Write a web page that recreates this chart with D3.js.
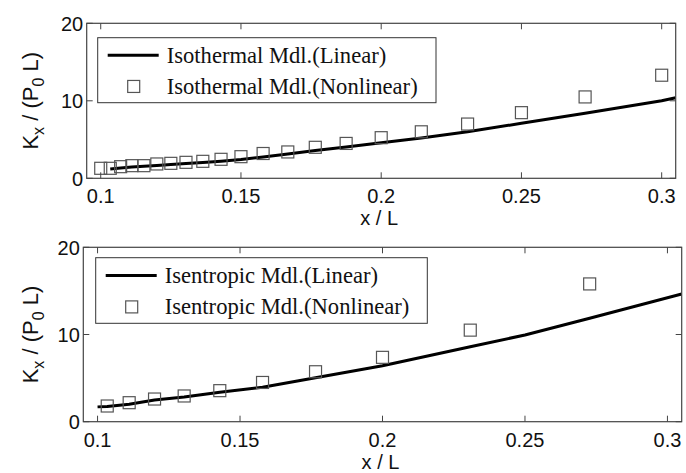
<!DOCTYPE html>
<html>
<head>
<meta charset="utf-8">
<script src="https://cdn.jsdelivr.net/npm/d3@7"></script>
<style>
  body { margin: 0; background: #fff; }
  text { font-family: Arial, "Liberation Sans", sans-serif; fill: #111; }
  .leg text { font-family: "Times New Roman", "Liberation Serif", serif; }
</style>
</head>
<body>
<script>
// chart data

var xTicks = [0.1, 0.15, 0.2, 0.25, 0.3];
var yTicks = [0, 10, 20];

// isothermal model
var isoNonX = [0.1, 0.1034, 0.1071, 0.1111, 0.1154, 0.12, 0.125, 0.1304, 0.1364, 0.1429,
               0.15, 0.1579, 0.1667, 0.1765, 0.1875, 0.2, 0.2143, 0.2308, 0.25, 0.2727, 0.3];
var isoNonY = [1.29, 1.29, 1.5, 1.63, 1.63, 1.85, 1.93, 2.06, 2.19, 2.45,
               2.79, 3.2, 3.4, 4.0, 4.5, 5.24, 6.0, 7.0, 8.47, 10.5, 13.3];
var isoLinX = [0.1034, 0.1071, 0.1111, 0.1154, 0.12, 0.125, 0.1304, 0.1364, 0.1429, 0.15,
               0.1579, 0.1667, 0.1765, 0.1875, 0.2, 0.2143, 0.2308, 0.25, 0.2727, 0.3, 0.305];
var isoLinY = [1.2, 1.33, 1.45, 1.55, 1.65, 1.78, 1.92, 2.05, 2.2, 2.42,
               2.75, 3.15, 3.6, 4.05, 4.6, 5.2, 6.0, 7.1, 8.4, 10.0, 10.4];

// isentropic model
var isenNonX = [0.1034, 0.1111, 0.12, 0.1304, 0.1429, 0.1579, 0.1765, 0.2, 0.2308, 0.2727];
var isenNonY = [1.8, 2.18, 2.6, 2.95, 3.56, 4.5, 5.73, 7.38, 10.5, 15.8];
var isenLinX = [0.1, 0.1034, 0.1111, 0.12, 0.1304, 0.1429, 0.1579, 0.1765, 0.2, 0.2308,
                0.25, 0.2727, 0.305];
var isenLinY = [1.7, 1.75, 2.0, 2.49, 2.83, 3.37, 3.94, 5.05, 6.42, 8.6,
                9.94, 11.86, 14.65];

var width = 686;
var height = 473;

var svg = d3.select("body").append("svg")
    .attr("width", width)
    .attr("height", height);

var panels = [
  {left: 86.7, right: 675.7, top: 23.3, bottom: 178.3,
   linX: isoLinX, linY: isoLinY, nonX: isoNonX, nonY: isoNonY,
   names: ["Isothermal Mdl.(Linear)", "Isothermal Mdl.(Nonlinear)"],
   leg: {x: 97.7, y: 37.7, w: 338.3, h: 65}},
  {left: 83.3, right: 681.7, top: 247.3, bottom: 421.7,
   linX: isenLinX, linY: isenLinY, nonX: isenNonX, nonY: isenNonY,
   names: ["Isentropic Mdl.(Linear)", "Isentropic Mdl.(Nonlinear)"],
   leg: {x: 95.7, y: 257.7, w: 331.6, h: 65.6}}
];

var axisColor = "#444";
var tickLen = 6;

panels.forEach(function(p, i){
  var x = d3.scaleLinear().domain([0.095, 0.305]).range([p.left, p.right]);
  var y = d3.scaleLinear().domain([0, 20]).range([p.bottom, p.top]);
  var g = svg.append("g");

  var clipId = "clip" + i;
  g.append("clipPath").attr("id", clipId)
    .append("rect")
    .attr("x", p.left).attr("y", p.top)
    .attr("width", p.right - p.left).attr("height", p.bottom - p.top);

  // line
  var lin = p.linX.map(function(v, k){ return [v, p.linY[k]]; });
  g.append("path")
    .datum(lin)
    .attr("clip-path", "url(#" + clipId + ")")
    .attr("fill", "none")
    .attr("stroke", "#000")
    .attr("stroke-width", 3)
    .attr("stroke-linejoin", "round")
    .attr("d", d3.line().x(function(d){ return x(d[0]); }).y(function(d){ return y(d[1]); }));

  // squares
  var non = p.nonX.map(function(v, k){ return [v, p.nonY[k]]; });
  var s = 12;
  g.selectAll(".sq").data(non).enter().append("rect")
    .attr("class", "sq")
    .attr("x", function(d){ return x(d[0]) - s/2; })
    .attr("y", function(d){ return y(d[1]) - s/2; })
    .attr("width", s).attr("height", s)
    .attr("fill", "none")
    .attr("stroke", "#555")
    .attr("stroke-width", 1.2);

  // box + ticks
  g.append("rect")
    .attr("x", p.left).attr("y", p.top)
    .attr("width", p.right - p.left).attr("height", p.bottom - p.top)
    .attr("fill", "none").attr("stroke", axisColor).attr("stroke-width", 1.2);

  xTicks.forEach(function(t){
    g.append("line").attr("x1", x(t)).attr("x2", x(t))
      .attr("y1", p.bottom).attr("y2", p.bottom - tickLen)
      .attr("stroke", axisColor);
    g.append("line").attr("x1", x(t)).attr("x2", x(t))
      .attr("y1", p.top).attr("y2", p.top + tickLen)
      .attr("stroke", axisColor);
    g.append("text")
      .attr("x", x(t)).attr("y", p.bottom + 25)
      .attr("text-anchor", "middle")
      .attr("font-size", 20)
      .text(t);
  });
  yTicks.forEach(function(t){
    g.append("line").attr("x1", p.left).attr("x2", p.left + tickLen)
      .attr("y1", y(t)).attr("y2", y(t))
      .attr("stroke", axisColor);
    g.append("line").attr("x1", p.right).attr("x2", p.right - tickLen)
      .attr("y1", y(t)).attr("y2", y(t))
      .attr("stroke", axisColor);
    g.append("text")
      .attr("x", p.left - 3.5).attr("y", y(t) + 7.2)
      .attr("text-anchor", "end")
      .attr("font-size", 20)
      .text(t);
  });

  // axis labels
  g.append("text")
    .attr("x", (p.left + p.right) / 2 - 2)
    .attr("y", p.bottom + 47)
    .attr("text-anchor", "middle")
    .attr("font-size", 20)
    .text("x / L");

  var yl = g.append("text")
    .attr("transform", "translate(37.5," + ((p.top + p.bottom) / 2) + ") rotate(-90)")
    .attr("text-anchor", "middle")
    .attr("font-size", 22);
  yl.append("tspan").text("K");
  yl.append("tspan").attr("dy", 6).attr("font-size", 16).text("x");
  yl.append("tspan").attr("dy", -6).text(" / (P");
  yl.append("tspan").attr("dy", 6).attr("font-size", 16).text("0");
  yl.append("tspan").attr("dy", -6).text(" L)");

  // legend
  var L = p.leg;
  var lg = g.append("g").attr("class", "leg");
  lg.append("rect")
    .attr("x", L.x).attr("y", L.y).attr("width", L.w).attr("height", L.h)
    .attr("fill", "#fff").attr("stroke", "#333").attr("stroke-width", 1);
  var r1 = L.y + L.h * 0.27, r2 = L.y + L.h * 0.75;
  lg.append("line")
    .attr("x1", L.x + 10).attr("x2", L.x + 61)
    .attr("y1", r1).attr("y2", r1)
    .attr("stroke", "#000").attr("stroke-width", 3);
  lg.append("rect")
    .attr("x", L.x + 36 - s/2).attr("y", r2 - s/2)
    .attr("width", s).attr("height", s)
    .attr("fill", "none").attr("stroke", "#555").attr("stroke-width", 1.2);
  lg.selectAll("text").data(p.names).enter().append("text")
    .attr("x", L.x + 69)
    .attr("y", function(d, k){ return (k === 0 ? r1 : r2) + 7.5; })
    .attr("font-size", 22.6)
    .text(function(d){ return d; });
});
</script>
</body>
</html>
